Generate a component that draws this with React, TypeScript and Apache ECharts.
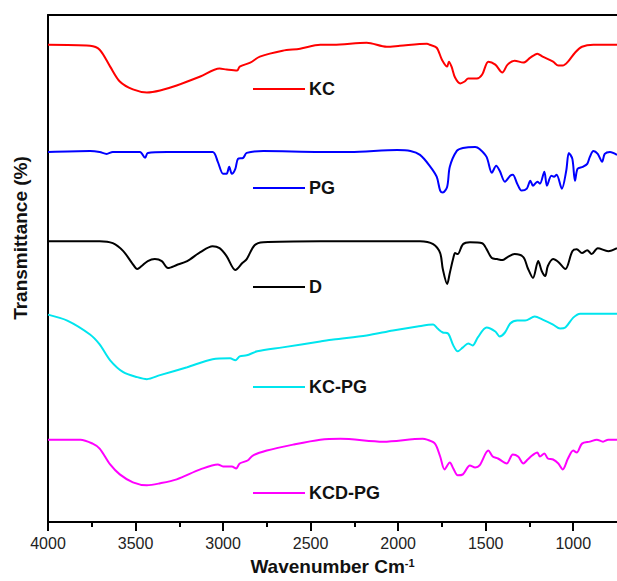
import React, { useEffect, useRef } from "react";
import * as echarts from "echarts";

const FONT = 'Arial, "Liberation Sans", sans-serif';

// x axis ticks (wavenumber, cm-1)
const X_TICKS = [1000, 1500, 2000, 2500, 3000, 3500, 4000];
const X_MINOR = [1250, 1750, 2250, 2750, 3250, 3750];

// spectra: [wavenumber, transmittance (arbitrary, offset units)]
const KC = [
  [4000, 481], [3760, 480], [3705, 476], [3645, 459], [3590, 444], [3515, 436], [3435, 433],
  [3360, 435], [3265, 440], [3130, 449], [3020, 457], [2980, 456], [2920, 455], [2905, 459],
  [2845, 463], [2790, 469], [2660, 475], [2560, 477], [2445, 481], [2370, 481], [2180, 483],
  [2065, 479], [1990, 480], [1835, 482], [1820, 481], [1780, 478], [1750, 466], [1720, 459],
  [1710, 464], [1695, 459], [1675, 448], [1645, 442], [1620, 444], [1600, 447], [1550, 447],
  [1520, 451], [1485, 464], [1445, 461], [1405, 453], [1375, 461], [1335, 465], [1285, 463],
  [1245, 468], [1205, 472], [1175, 469], [1115, 464], [1085, 460], [1060, 460], [1030, 464],
  [990, 473], [950, 479], [885, 481], [750, 481],
];

const PG = [
  [4000, 373], [3760, 374], [3705, 373], [3665, 371], [3630, 373], [3475, 373], [3445, 367],
  [3430, 372], [3320, 373], [3060, 373], [3030, 363], [3000, 351], [2980, 351], [2965, 358],
  [2950, 351], [2930, 356], [2915, 366], [2885, 367], [2865, 372], [2770, 374], [2445, 373],
  [2275, 373], [2005, 375], [1930, 374], [1875, 370], [1820, 359], [1780, 348], [1760, 334],
  [1745, 332], [1720, 338], [1705, 358], [1665, 374], [1630, 377], [1560, 378], [1535, 376],
  [1495, 368], [1465, 352], [1440, 359], [1420, 354], [1390, 343], [1360, 349], [1345, 350],
  [1320, 341], [1295, 334], [1265, 336], [1245, 344], [1230, 339], [1205, 343], [1190, 341],
  [1165, 353], [1150, 339], [1125, 349], [1110, 348], [1095, 350], [1065, 336], [1040, 354],
  [1025, 372], [1005, 366], [990, 344], [975, 356], [945, 358], [920, 361], [905, 368],
  [885, 374], [860, 371], [835, 363], [820, 371], [790, 373], [750, 370],
];

const D = [
  [4000, 283], [3705, 283], [3630, 281], [3570, 273], [3520, 261], [3490, 255], [3465, 258],
  [3430, 263], [3390, 265], [3350, 263], [3315, 256], [3265, 259], [3205, 263], [3130, 272],
  [3060, 278], [3020, 276], [2980, 268], [2930, 254], [2890, 261], [2865, 265], [2820, 279],
  [2770, 282], [2445, 283], [1990, 283], [1875, 283], [1800, 280], [1760, 271], [1745, 255],
  [1720, 240], [1705, 251], [1685, 266], [1675, 271], [1660, 270], [1630, 280], [1590, 282],
  [1520, 281], [1495, 275], [1465, 266], [1435, 265], [1405, 264], [1375, 267], [1335, 270],
  [1285, 267], [1260, 256], [1230, 246], [1200, 263], [1180, 253], [1160, 248], [1145, 258],
  [1115, 265], [1085, 262], [1045, 255], [1005, 273], [980, 275], [950, 271], [920, 274],
  [895, 270], [860, 276], [800, 273], [750, 276],
];

const KC_PG = [
  [4000, 209], [3890, 203], [3760, 189], [3705, 179], [3645, 163], [3570, 151], [3490, 146],
  [3435, 144], [3360, 148], [3205, 156], [3060, 164], [2960, 165], [2930, 163], [2905, 167],
  [2865, 168], [2805, 172], [2660, 176], [2445, 182], [2370, 184], [2180, 188], [2030, 193],
  [1890, 197], [1800, 199], [1775, 195], [1745, 191], [1715, 190], [1685, 178], [1660, 172],
  [1630, 176], [1600, 180], [1575, 178], [1545, 186], [1495, 196], [1445, 192], [1420, 187],
  [1390, 191], [1360, 200], [1320, 203], [1275, 203], [1220, 207], [1175, 204], [1115, 199],
  [1075, 195], [1045, 196], [1000, 206], [960, 210], [865, 210], [750, 210],
];

const KCD_PG = [
  [4000, 83], [3920, 83], [3815, 83], [3745, 79], [3705, 74], [3645, 58], [3590, 48],
  [3515, 40], [3435, 37], [3360, 39], [3265, 43], [3130, 53], [3030, 58], [3000, 56],
  [2950, 56], [2925, 54], [2905, 59], [2860, 62], [2830, 67], [2750, 72], [2600, 78],
  [2445, 83], [2330, 84], [2085, 81], [1860, 84], [1835, 83], [1790, 79], [1760, 66],
  [1735, 53], [1705, 60], [1685, 54], [1660, 47], [1630, 48], [1590, 57], [1560, 55],
  [1535, 57], [1485, 72], [1460, 66], [1430, 64], [1380, 59], [1345, 68], [1315, 66],
  [1285, 59], [1260, 63], [1235, 67], [1205, 70], [1190, 66], [1165, 69], [1145, 64],
  [1115, 63], [1085, 59], [1060, 53], [1030, 64], [1000, 72], [980, 70], [950, 79],
  [905, 81], [865, 83], [830, 81], [800, 83], [750, 83],
];

const SERIES_NAMES = ["KC", "PG", "D", "KC-PG", "KCD-PG"];
const SERIES_DATA = [KC, PG, D, KC_PG, KCD_PG];
const SERIES_COLORS = ["#ff0000", "#0000ff", "#000000", "#00e5ee", "#ff00ff"];
const LABEL_Y = [89, 188, 287, 387, 493];

export default function App() {
  const ref = useRef<HTMLDivElement>(null);

  useEffect(() => {
    document.body.style.margin = "0";
    if (!ref.current) return;
    const chart = echarts.init(ref.current, undefined, { renderer: "svg" });

    const graphics: any[] = [];
    SERIES_NAMES.forEach((name, i) => {
      graphics.push({
        type: "line",
        shape: { x1: 253, y1: LABEL_Y[i], x2: 305, y2: LABEL_Y[i] },
        style: { stroke: SERIES_COLORS[i], lineWidth: 2 },
      });
      graphics.push({
        type: "text",
        x: 309,
        y: LABEL_Y[i],
        style: {
          text: name,
          fill: "#111",
          font: `bold 18px ${FONT}`,
          textAlign: "left",
          textVerticalAlign: "middle",
        },
      });
    });
    graphics.push({
      type: "text",
      x: 20,
      y: 238,
      rotation: Math.PI / 2,
      style: {
        text: "Transmittance (%)",
        fill: "#111",
        font: `bold 19px ${FONT}`,
        textAlign: "center",
        textVerticalAlign: "middle",
      },
    });

    const baseX = { type: "value", min: 750, max: 4000, inverse: true, splitLine: { show: false } };

    chart.setOption({
      animation: false,
      grid: { left: 48, right: 0, top: 15, bottom: 55 },
      xAxis: [
        {
          ...baseX,
          position: "bottom",
          axisLine: { lineStyle: { color: "#000", width: 2 } },
          axisTick: { customValues: X_TICKS, length: 9, lineStyle: { color: "#000", width: 2 } },
          axisLabel: {
            customValues: X_TICKS,
            margin: 13,
            fontSize: 16,
            color: "#222",
            fontFamily: FONT,
            formatter: (v: number) => String(v),
          },
          name: "Wavenumber Cm{sup|-1}",
          nameLocation: "middle",
          nameGap: 35,
          nameTextStyle: {
            fontSize: 19,
            fontWeight: "bold",
            color: "#111",
            fontFamily: FONT,
            rich: {
              sup: { fontSize: 11, fontWeight: "bold", color: "#111", fontFamily: FONT, verticalAlign: "top" },
            },
          },
        },
        {
          ...baseX,
          position: "bottom",
          axisLine: { show: false },
          axisTick: { customValues: X_MINOR, length: 5, lineStyle: { color: "#000", width: 2 } },
          axisLabel: { show: false },
        },
        {
          ...baseX,
          position: "top",
          axisLine: { lineStyle: { color: "#000", width: 2 } },
          axisTick: { show: false },
          axisLabel: { show: false },
        },
      ],
      yAxis: {
        type: "value",
        min: 0,
        max: 511,
        axisLine: { show: true, lineStyle: { color: "#000", width: 2 } },
        axisTick: { show: false },
        axisLabel: { show: false },
        splitLine: { show: false },
      },
      series: SERIES_NAMES.map((name, i) => ({
        name,
        type: "line",
        xAxisIndex: 0,
        data: SERIES_DATA[i],
        showSymbol: false,
        smooth: 0.3,
        lineStyle: { color: SERIES_COLORS[i], width: 2 },
        itemStyle: { color: SERIES_COLORS[i] },
      })),
      graphic: graphics,
    });

    return () => chart.dispose();
  }, []);

  return <div ref={ref} style={{ width: 617, height: 581 }} />;
}
